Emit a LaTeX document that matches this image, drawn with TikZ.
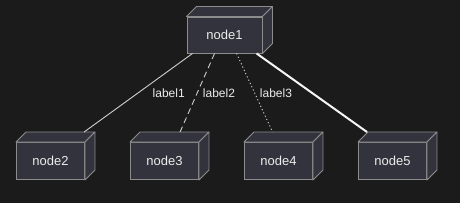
\documentclass[tikz,border=0pt]{standalone}
\usepackage{fontspec}
\setmainfont{Liberation Sans}
\usetikzlibrary{calc}
\definecolor{bg}{HTML}{1B1B1B}
\definecolor{boxfill}{HTML}{33333D}
\definecolor{boxline}{HTML}{8C8C8C}
\definecolor{edgecol}{HTML}{CFCFCF}
\definecolor{txt}{HTML}{ECECEC}
\tikzset{
  cubebox/.style={rectangle, draw=boxline, fill=boxfill, line width=0.9pt,
    minimum width=68pt, minimum height=37pt, inner sep=0pt, text=txt,
    font=\fontsize{13pt}{15pt}\selectfont},
  face/.style={draw=boxline, fill=boxfill, line width=0.9pt, line join=round},
  edge/.style={draw=edgecol, line width=0.9pt},
  elabel/.style={text=txt, font=\fontsize{12pt}{14pt}\selectfont, inner sep=1pt}
}
\newcommand{\cubefaces}[1]{%
  \fill[face] (#1.north west) -- ++(10,10) -- ($(#1.north east)+(10,10)$) -- (#1.north east) -- cycle;
  \fill[face] (#1.north east) -- ++(10,10) -- ($(#1.south east)+(10,10)$) -- (#1.south east) -- cycle;
}
\begin{document}
\begin{tikzpicture}[x=1pt,y=1pt]
\fill[bg] (0,0) rectangle (460,203);
\useasboundingbox (0,0) rectangle (460,203);
\node[cubebox, minimum width=75pt, minimum height=36pt] (node1) at (224.5,168) {node1};
\node[cubebox] (node2) at (50.5,42) {node2};
\node[cubebox] (node3) at (164.5,42) {node3};
\node[cubebox] (node4) at (278.5,42) {node4};
\node[cubebox] (node5) at (392.5,42) {node5};
\foreach \n in {node1,node2,node3,node4,node5} {\cubefaces{\n}}
\draw[edge] ($(node1.south west)+(6,0)$) -- ($(node2.north west)+(68,10)$);
\draw[edge, dash pattern=on 6pt off 4pt] ($(node1.south west)+(28,0)$) -- ($(node3.north west)+(50,10)$);
\draw[edge, dash pattern=on 1.2pt off 2.4pt] ($(node1.south west)+(50,0)$) -- ($(node4.north west)+(28.5,10)$);
\draw[edge, draw=white!92!gray, line width=2pt] ($(node1.south west)+(70,0)$) -- ($(node5.north west)+(9,10)$);
\node[elabel] (label1) at (168.7,110) {label1};
\node[elabel] (label2) at (219,110) {label2};
\node[elabel] (label3) at (276,110) {label3};
\end{tikzpicture}
\end{document}
